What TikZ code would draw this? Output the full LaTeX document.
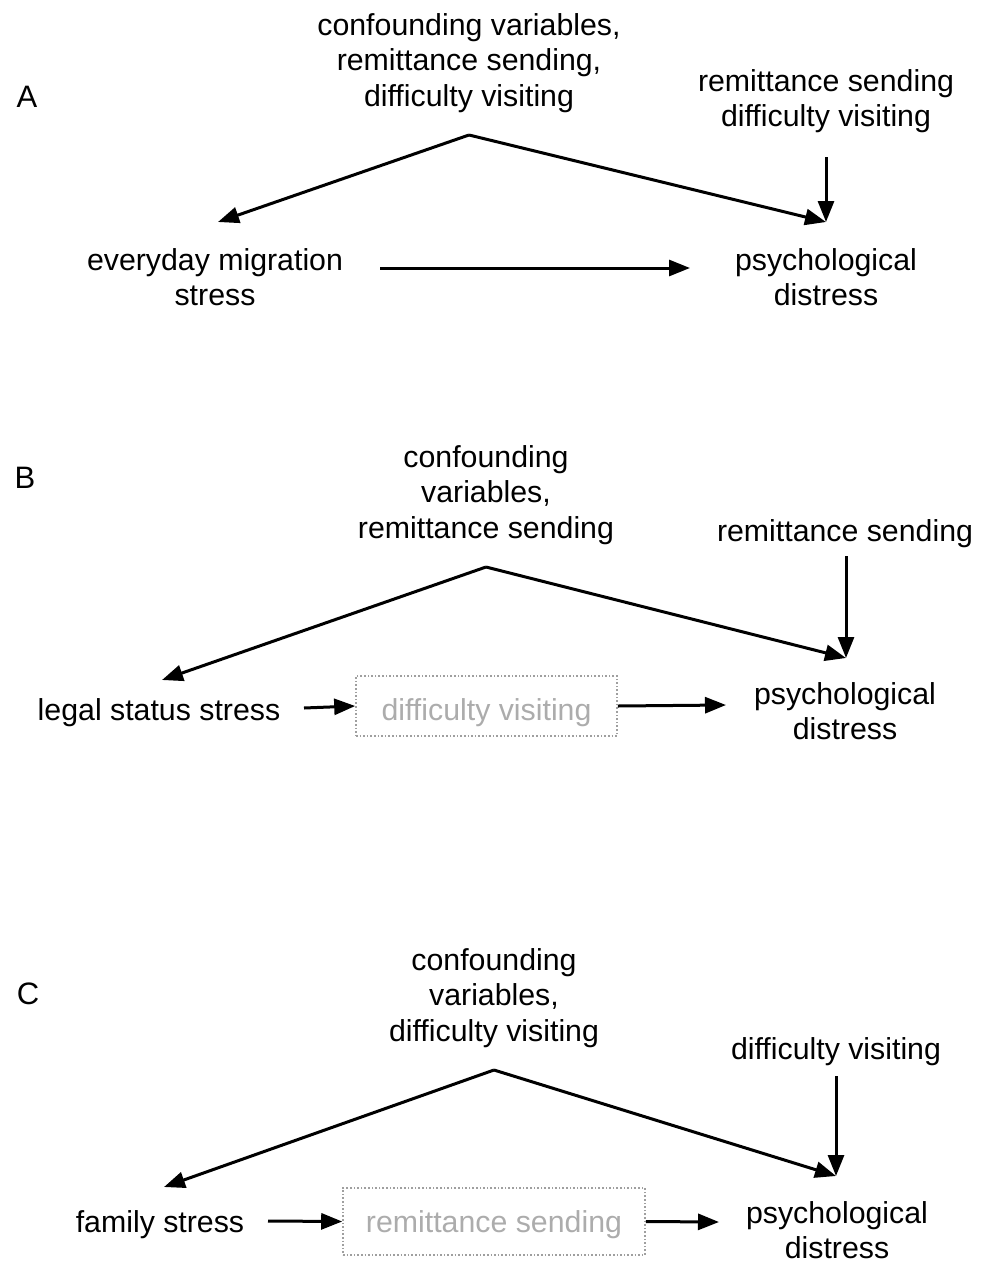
\documentclass[tikz,border=0pt]{standalone}
\usepackage{fontspec}
\setmainfont{Liberation Sans}
\usetikzlibrary{arrows.meta}
\begin{document}
\begin{tikzpicture}[x=1pt,y=-1pt,
  txt/.style={align=center,inner sep=0pt,font=\fontsize{30.3}{35.5}\selectfont},
  lbl/.style={inner sep=0pt,font=\fontsize{31}{36}\selectfont},
  arr/.style={line width=3pt,-{Triangle[length=21pt,width=16pt]}},
  medbox/.style={draw=gray!75,dotted,line width=1.6pt,text=gray!65,inner sep=0pt,font=\fontsize{30.3}{35}\selectfont}]
\useasboundingbox (0,0) rectangle (980,1263);
% ---------- A ----------
\node[lbl] (labA) at (27,97) {A};
\node[txt] (confA) at (469,63) {confounding variables,\\remittance sending,\\difficulty visiting};
\node[txt] (modA) at (826,101) {remittance sending\\difficulty visiting};
\node[txt] (stressA) at (215,277) {everyday migration\\stress};
\node[txt] (distA) at (826,277) {psychological\\distress};
\coordinate (apexA) at (469,135);
\coordinate (tipAL) at (218,222);
\coordinate (tipAR) at (826,222);
\coordinate (modAs) at (826,157);
\coordinate (hA1) at (380,268);
\coordinate (hA2) at (690,268);
\draw[arr] (apexA) -- (tipAL);
\draw[arr] (apexA) -- (tipAR);
\draw[arr] (modAs) -- (tipAR);
\draw[arr] (hA1) -- (hA2);
% ---------- B ----------
\node[lbl] (labB) at (25,478) {B};
\node[txt] (confB) at (486,495) {confounding\\variables,\\remittance sending};
\node[txt] (modB) at (845,534) {remittance sending};
\node[txt] (stressB) at (159,713) {legal status stress};
\node[txt] (distB) at (845,711) {psychological\\distress};
\node[medbox,minimum width=261pt,minimum height=60pt,text height=35pt,text depth=6pt] (medB) at (486.5,706) {difficulty visiting};
\coordinate (apexB) at (486,567);
\coordinate (tipBL) at (162,680);
\coordinate (tipBR) at (846,658);
\coordinate (modBs) at (846,556);
\coordinate (hB1) at (304,708);
\coordinate (hB2) at (726,705);
\draw[arr] (apexB) -- (tipBL);
\draw[arr] (apexB) -- (tipBR);
\draw[arr] (modBs) -- (tipBR);
\draw[arr] (hB1) -- (medB.west);
\draw[arr] (medB.east) -- (hB2);
% ---------- C ----------
\node[lbl] (labC) at (28,994) {C};
\node[txt] (confC) at (494,998) {confounding\\variables,\\difficulty visiting};
\node[txt] (modC) at (836,1052) {difficulty visiting};
\node[txt] (stressC) at (160,1225) {family stress};
\node[txt] (distC) at (837,1230) {psychological\\distress};
\node[medbox,minimum width=302pt,minimum height=67pt,text height=27pt,text depth=6pt] (medC) at (494,1221.5) {remittance sending};
\coordinate (apexC) at (494,1070);
\coordinate (tipCL) at (164,1187);
\coordinate (tipCR) at (836,1176);
\coordinate (modCs) at (836,1076);
\coordinate (hC1) at (268,1221);
\coordinate (hC2) at (719,1222);
\draw[arr] (apexC) -- (tipCL);
\draw[arr] (apexC) -- (tipCR);
\draw[arr] (modCs) -- (tipCR);
\draw[arr] (hC1) -- (medC.west);
\draw[arr] (medC.east) -- (hC2);
\end{tikzpicture}
\end{document}
